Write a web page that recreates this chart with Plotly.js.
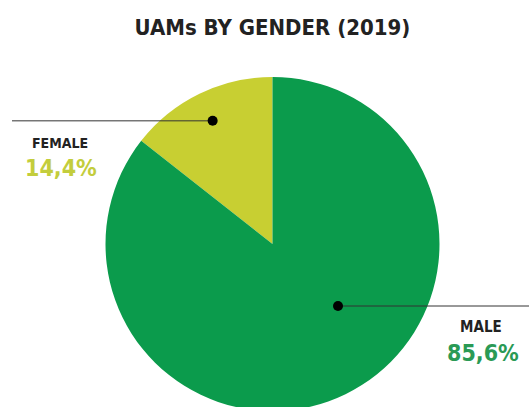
<!DOCTYPE html>
<html><head><meta charset="utf-8">
<script src="https://cdn.plot.ly/plotly-3.0.1.min.js"></script>
<style>html,body{margin:0;padding:0;overflow:hidden;background:#fff}#chart{width:529px;height:420px}</style>
</head><body><div id="chart"></div>
<script>
const labels = ["FEMALE", "MALE"];
const values = [14.4, 85.6];
const valueText = ["14,4%", "85,6%"];
const colors = ["#c8cf32", "#0b9b4c"];
const textColors = ["#c3cd3c", "#2a9a55"];

const W = 529, H = 420;
const cx = 272.5, cy = 244, r = 167;
const px = x => x / W;
const py = y => 1 - y / H;

const total = values.reduce((a, b) => a + b, 0);
const femaleDeg = values[0] / total * 360;
const fMid = (femaleDeg / 2) * Math.PI / 180;
const fDot = [cx - Math.sin(fMid) * r * 0.82, cy - Math.cos(fMid) * r * 0.82];
const mDot = [338, 306];

const shapes = [
  {type: "line", xref: "paper", yref: "paper", x0: px(12), x1: px(fDot[0]), y0: py(fDot[1]), y1: py(fDot[1]), line: {color: "#333", width: 1}},
  {type: "line", xref: "paper", yref: "paper", x0: px(mDot[0]), x1: px(529), y0: py(mDot[1]), y1: py(mDot[1]), line: {color: "#333", width: 1}},
  {type: "circle", xref: "paper", yref: "paper", x0: px(fDot[0] - 5), x1: px(fDot[0] + 5), y0: py(fDot[1] - 5), y1: py(fDot[1] + 5), fillcolor: "#000", line: {width: 0}},
  {type: "circle", xref: "paper", yref: "paper", x0: px(mDot[0] - 5), x1: px(mDot[0] + 5), y0: py(mDot[1] - 5), y1: py(mDot[1] + 5), fillcolor: "#000", line: {width: 0}}
];

const font = "DejaVu Sans Condensed, DejaVu Sans, sans-serif";
const ann = (text, x, y, size, color) => ({text: "<b>" + text + "</b>", x: px(x), y: py(y), xref: "paper", yref: "paper", xanchor: "center", yanchor: "middle", showarrow: false, font: {family: font, size: size, color: color}});
const annotations = [
  ann(labels[0], 60, 143, 14, "#222"),
  ann(valueText[0], 61, 168, 23, textColors[0]),
  ann(labels[1], 481, 327, 15, "#222"),
  ann(valueText[1], 483, 353, 23, textColors[1])
];

Plotly.newPlot("chart", [{
  type: "pie",
  labels: labels,
  values: values,
  sort: false,
  direction: "clockwise",
  rotation: -femaleDeg,
  textinfo: "none",
  hoverinfo: "none",
  marker: {colors: colors, line: {width: 0}},
  domain: {x: [(cx - r) / W, (cx + r) / W], y: [1 - (cy + r) / H, 1 - (cy - r) / H]},
  showlegend: false
}], {
  width: W, height: H,
  margin: {l: 0, r: 0, t: 0, b: 0},
  paper_bgcolor: "#fff",
  title: {text: "<b>UAMs BY GENDER (2019)</b>", x: 0.515, xanchor: "center", y: 1 - 27 / H, yanchor: "middle", font: {family: font, size: 22, color: "#222"}},
  shapes: shapes,
  annotations: annotations
}, {displayModeBar: false, staticPlot: true});
</script></body></html>
